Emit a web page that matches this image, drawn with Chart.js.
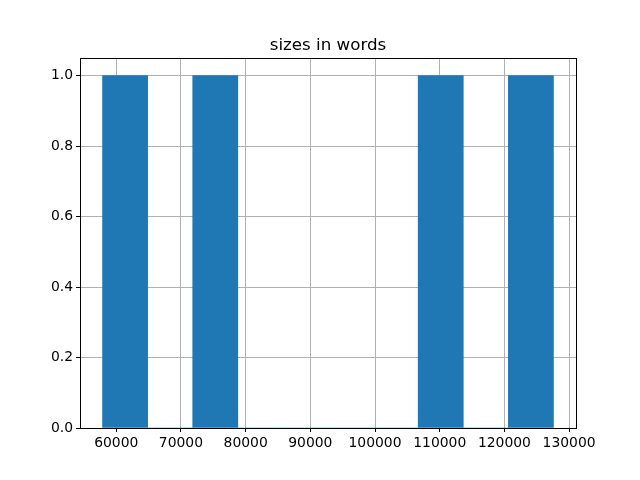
<!DOCTYPE html>
<html>
<head>
<meta charset="utf-8">
<script src="https://cdn.jsdelivr.net/npm/chart.js@4/dist/chart.umd.min.js"></script>
<style>
  html, body { margin: 0; padding: 0; background: #fff; }
  #wrap { width: 640px; height: 480px; }
</style>
</head>
<body>
<div id="wrap"><canvas id="chart" width="640" height="480"></canvas></div>
<script>
// histogram of sizes in words, 10 bins
const binEdges = [57880, 64850, 71820, 78790, 85760, 92730, 99700, 106670, 113640, 120610, 127580];
const binCounts = [1, 0, 1, 0, 0, 0, 0, 1, 0, 1];
const xTicks = [60000, 70000, 80000, 90000, 100000, 110000, 120000, 130000];
const yTicks = [0, 0.2, 0.4, 0.6, 0.8, 1.0];
const titleText = 'sizes in words';

const barColor = '#1f77b4';
const gridColor = '#b0b0b0';
const fontFamily = '"DejaVu Sans", sans-serif';

const points = binCounts.map((c, i) => ({ x: (binEdges[i] + binEdges[i + 1]) / 2, y: c }));

// title + full box around the axes
const framePlugin = {
    id: 'frame',
    afterDraw(chart) {
        const ctx = chart.ctx;
        const a = chart.chartArea;
        ctx.save();
        ctx.strokeStyle = '#000';
        ctx.lineWidth = 1;
        ctx.strokeRect(Math.round(a.left) + 0.5, Math.round(a.top) + 0.5,
            Math.round(a.right - a.left), Math.round(a.bottom - a.top));
        ctx.fillStyle = '#000';
        ctx.font = '16.7px ' + fontFamily;
        ctx.textAlign = 'center';
        ctx.textBaseline = 'alphabetic';
        ctx.fillText(titleText, (a.left + a.right) / 2, a.top - 8);
        ctx.restore();
    }
};

const ctx = document.getElementById('chart').getContext('2d');
new Chart(ctx, {
    type: 'bar',
    data: {
        datasets: [{
            data: points,
            backgroundColor: barColor,
            borderWidth: 0,
            barPercentage: 1,
            categoryPercentage: 1,
        }],
    },
    options: {
        responsive: false,
        animation: false,
        layout: { padding: { left: 0, right: 64, top: 58, bottom: 0 } },
        plugins: { legend: { display: false }, tooltip: { enabled: false } },
        scales: {
            x: {
                type: 'linear',
                min: 54395,
                max: 131065,
                offset: false,
                z: 1,
                afterBuildTicks(scale) { scale.ticks = xTicks.map(v => ({ value: v })); },
                afterFit(scale) { scale.height = 52; },
                grid: { offset: false, color: gridColor, lineWidth: 1, tickColor: '#000', tickLength: 4, drawTicks: true },
                border: { display: true, color: '#000', width: 1 },
                ticks: {
                    color: '#000',
                    font: { family: fontFamily, size: 13.9 },
                    padding: 3,
                    maxRotation: 0,
                    autoSkip: false,
                    callback: v => String(v),
                },
            },
            y: {
                min: 0,
                max: 1.05,
                z: 1,
                afterBuildTicks(scale) { scale.ticks = yTicks.map(v => ({ value: v })); },
                afterFit(scale) { scale.width = 80; },
                grid: { color: gridColor, lineWidth: 1, tickColor: '#000', tickLength: 4, drawTicks: true },
                border: { display: true, color: '#000', width: 1 },
                ticks: {
                    color: '#000',
                    font: { family: fontFamily, size: 13.9 },
                    padding: 3,
                    callback: v => v.toFixed(1),
                },
            },
        },
    },
    plugins: [framePlugin],
});
</script>
</body>
</html>
